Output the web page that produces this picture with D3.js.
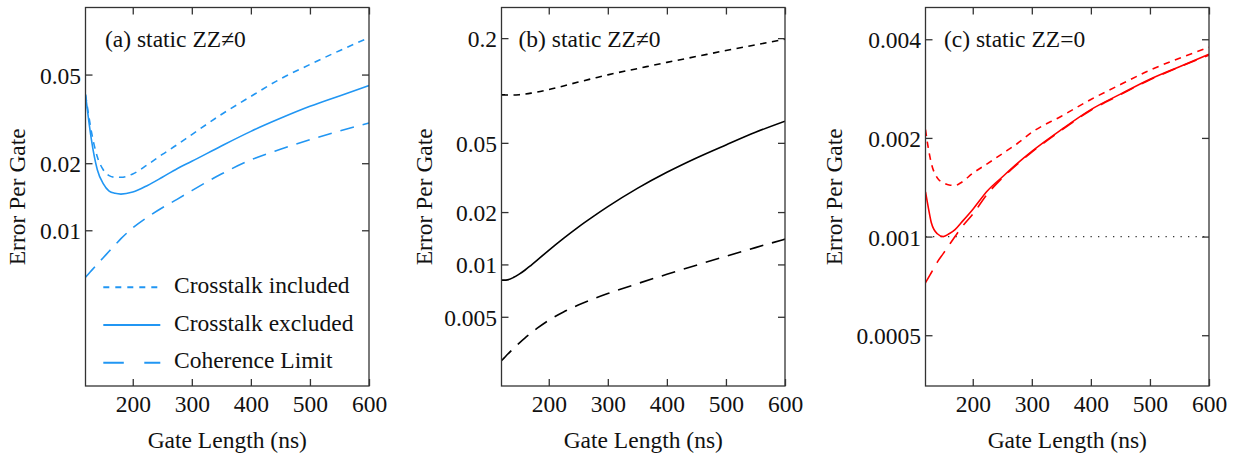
<!DOCTYPE html>
<html><head><meta charset="utf-8">
<script src="https://cdn.jsdelivr.net/npm/d3@7"></script>
<style>body{margin:0;background:#fff}</style>
</head><body>
<svg id="chart" width="1246" height="454"></svg>
<script>
// ---- data ----
const gateLength = [120,125,130,140,150,160,170,180,200,225,250,275,300,350,400,450,500,550,600];

const aIncluded  = [0.0406,0.0333,0.0277,0.0214,0.0187,0.0176,0.0173,0.0173,0.0179,0.0197,0.0219,0.0242,0.0269,0.0331,0.0399,0.0478,0.0555,0.0640,0.0732];
const aExcluded  = [0.0406,0.0318,0.0255,0.0187,0.0162,0.0150,0.01465,0.01453,0.01485,0.0159,0.0173,0.0189,0.0204,0.0239,0.0278,0.0318,0.0360,0.0401,0.0446];
const aCoherence = [0.00616,0.00637,0.00659,0.00705,0.00753,0.00805,0.00859,0.00917,0.01025,0.01146,0.01262,0.01377,0.01507,0.01788,0.0207,0.0231,0.0255,0.0279,0.0303];

const bIncluded  = [0.0944,0.0943,0.0942,0.0942,0.0946,0.0955,0.0966,0.0979,0.1012,0.1062,0.1118,0.1173,0.1230,0.1336,0.1451,0.1569,0.1697,0.1830,0.1971];
const bExcluded  = [0.00812,0.00812,0.00815,0.00840,0.00879,0.00929,0.00989,0.01055,0.01205,0.01412,0.01640,0.01883,0.02149,0.02737,0.03387,0.04095,0.04866,0.05750,0.0666];
const bCoherence = [0.00280,0.002913,0.003034,0.003281,0.003532,0.003784,0.004036,0.004285,0.004775,0.005326,0.005840,0.006328,0.006802,0.007748,0.008773,0.009901,0.011134,0.012492,0.013980];

const cIncluded  = [0.00212,0.00185,0.00167,0.00151,0.00146,0.001437,0.001433,0.00146,0.00156,0.00167,0.00179,0.00192,0.00208,0.00233,0.00262,0.00291,0.00322,0.00350,0.00378];
const cExcluded  = [0.00137,0.00122,0.00110,0.00102,0.00100,0.00102,0.00105,0.00110,0.00121,0.00138,0.00152,0.00167,0.00182,0.00212,0.00244,0.00272,0.00302,0.00330,0.00360];
const cCoherence = [0.000723,0.00075,0.000777,0.000836,0.000887,0.000942,0.00100,0.00106,0.00117,0.00135,0.00151,0.00166,0.00181,0.00211,0.00243,0.00271,0.00301,0.00329,0.00358];
const cReference = 0.001;

const xTicks = [200,300,400,500,600];
const aYTicks = [0.01,0.02,0.05];            const aYLabels = ["0.01","0.02","0.05"];
const bYTicks = [0.005,0.01,0.02,0.05,0.2];  const bYLabels = ["0.005","0.01","0.02","0.05","0.2"];
const cYTicks = [0.0005,0.001,0.002,0.004];  const cYLabels = ["0.0005","0.001","0.002","0.004"];

const legendLabels = ["Crosstalk included","Crosstalk excluded","Coherence Limit"];
const panelTitles = ["(a) static ZZ\u22600","(b) static ZZ\u22600","(c) static ZZ=0"];

// ---- layout ----
const svg = d3.select("#chart");
const plotTop = 7.5, plotBottom = 386, W = 283.5;
const FS = "23.5px";
const FONT = '"Liberation Serif"';
const styles = {
  included: {dash:"6.5,5.5"},
  excluded: {dash:null},
  coherence:{dash:"14,9"}
};
const panels = [
  {left:85.5, title:panelTitles[0], titleX:105, color:"#2196f3", yDomain:[0.002,0.1],
   yTicks:aYTicks, yLabels:aYLabels, yTitleX:25,
   series:[["coherence",aCoherence],["included",aIncluded],["excluded",aExcluded]], legend:true},
  {left:501.5, title:panelTitles[1], titleX:518.5, color:"#000", yDomain:[0.002,0.3],
   yTicks:bYTicks, yLabels:bYLabels, yTitleX:431.5,
   series:[["coherence",bCoherence],["included",bIncluded],["excluded",bExcluded]]},
  {left:925.5, title:panelTitles[2], titleX:944, color:"#ff0000", yDomain:[0.00035,0.005],
   yTicks:cYTicks, yLabels:cYLabels, yTitleX:841.5,
   series:[["coherence",cCoherence],["included",cIncluded],["excluded",cExcluded]], hline:cReference}
];

const frameColor = "#333";
const defs = svg.append("defs");
function fontify(sel){ return sel.style("font-family",FONT).style("font-size",FS).attr("fill","#111"); }

panels.forEach((p,pi) => {
  const x = d3.scaleLinear().domain([120,600]).range([p.left, p.left+W]);
  const y = d3.scaleLog().domain(p.yDomain).range([plotBottom, plotTop]);
  const g = svg.append("g");
  const clipId = "clip"+pi;
  defs.append("clipPath").attr("id",clipId)
    .append("rect").attr("x",p.left).attr("y",plotTop).attr("width",W).attr("height",plotBottom-plotTop);

  const plot = g.append("g").attr("clip-path",`url(#${clipId})`);

  if (p.hline !== undefined) {
    plot.append("line")
      .attr("x1",x(120)).attr("x2",x(600))
      .attr("y1",y(p.hline)).attr("y2",y(p.hline))
      .attr("stroke","#333").attr("stroke-width",1.3)
      .attr("stroke-dasharray","1.3,6.2");
  }

  const line = d3.line()
    .x((d,i)=>x(gateLength[i]))
    .y(d=>y(d))
    .curve(d3.curveMonotoneX);

  p.series.forEach(([kind,vals]) => {
    plot.append("path").datum(vals)
      .attr("d",line)
      .attr("fill","none")
      .attr("stroke",p.color)
      .attr("stroke-width",1.6)
      .attr("stroke-dasharray",styles[kind].dash);
  });

  // frame
  g.append("rect").attr("x",p.left).attr("y",plotTop).attr("width",W).attr("height",plotBottom-plotTop)
    .attr("fill","none").attr("stroke",frameColor).attr("stroke-width",1.3);

  // axes (ticks inward on all four sides)
  const tl = 7;
  const xb = g.append("g").attr("transform",`translate(0,${plotBottom})`)
    .call(d3.axisBottom(x).tickValues(xTicks).tickSizeInner(-tl).tickSizeOuter(0));
  const xt = g.append("g").attr("transform",`translate(0,${plotTop})`)
    .call(d3.axisTop(x).tickValues(xTicks).tickSizeInner(-tl).tickSizeOuter(0).tickFormat(""));
  const yl = g.append("g").attr("transform",`translate(${p.left},0)`)
    .call(d3.axisLeft(y).tickValues(p.yTicks).tickSizeInner(-tl).tickSizeOuter(0)
      .tickFormat((d,i)=>p.yLabels[i]));
  const yr = g.append("g").attr("transform",`translate(${p.left+W},0)`)
    .call(d3.axisRight(y).tickValues(p.yTicks).tickSizeInner(-tl).tickSizeOuter(0).tickFormat(""));
  [xb,xt,yl,yr].forEach(a=>{
    a.select(".domain").remove();
    a.selectAll(".tick line").attr("stroke",frameColor).attr("stroke-width",1.3);
    fontify(a.selectAll("text"));
  });
  xb.selectAll("text").attr("y", 411.5-plotBottom).attr("dy",0);
  yl.selectAll("text").attr("x",-4.5).attr("dy","0.36em");

  // axis titles
  fontify(g.append("text").attr("x",p.left+W/2).attr("y",447.5).attr("text-anchor","middle"))
    .text("Gate Length (ns)");
  fontify(g.append("text").attr("transform",`translate(${p.yTitleX},${(plotTop+plotBottom)/2}) rotate(-90)`)
    .attr("text-anchor","middle")).text("Error Per Gate");

  // panel label
  fontify(g.append("text").attr("x",p.titleX).attr("y",47)).text(p.title);

  if (p.legend) {
    const rows = [["included",287.3],["excluded",325],["coherence",362.7]];
    const legendDash = {included:"6,6", excluded:null, coherence:"20.5,20.5"};
    rows.forEach(([kind,ly],i)=>{
      g.append("line").attr("x1",103.3).attr("x2",160.3).attr("y1",ly).attr("y2",ly)
        .attr("stroke",p.color).attr("stroke-width",2)
        .attr("stroke-dasharray",legendDash[kind]);
      fontify(g.append("text").attr("x",174).attr("y",ly+5.6)).text(legendLabels[i]);
    });
  }
});
</script>
</body></html>
